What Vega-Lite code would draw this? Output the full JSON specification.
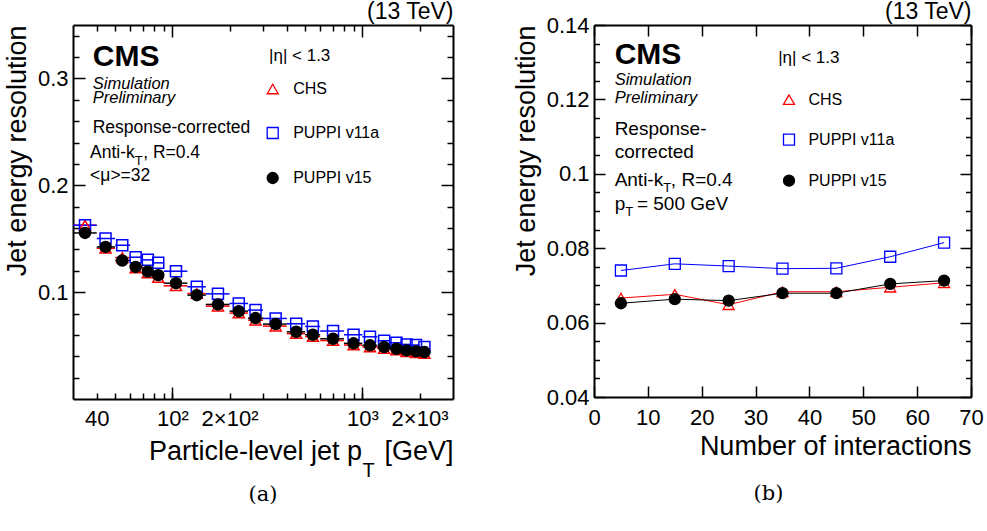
{
 "$schema": "https://vega.github.io/schema/vega-lite/v6.json",
 "padding": {"left": 3, "top": 0, "right": 0, "bottom": 0},
 "spacing": 58,
 "background": "white",
 "config": {
  "view": {"stroke": null},
  "axis": {"labelFont": "Liberation Sans", "titleFont": "Liberation Sans", "domainColor": "black", "tickColor": "black", "labelColor": "black", "titleColor": "black", "titleFontWeight": "normal", "grid": false, "domainWidth": 2, "tickWidth": 1.5, "labelFontSize": 22, "titleFontSize": 27, "labelFlush": false, "labelOverlap": false, "zindex": 1},
  "legend": {"labelFont": "Liberation Sans", "titleFont": "Liberation Sans", "labelColor": "black", "titleColor": "black", "titleFontWeight": "normal"}
 },
 "resolve": {"scale": {"shape": "independent", "stroke": "independent", "fill": "independent", "size": "independent"}, "legend": {"shape": "independent", "stroke": "independent", "fill": "independent", "size": "independent"}},
 "datasets": {
  "pt": [
   {"s":"CHS","pt":34.7,"lo":30,"hi":40,"res":0.1626},{"s":"CHS","pt":44.5,"lo":40,"hi":50,"res":0.141},{"s":"CHS","pt":54.5,"lo":50,"hi":60,"res":0.1323},{"s":"CHS","pt":64.1,"lo":60,"hi":70,"res":0.1225},{"s":"CHS","pt":74.3,"lo":70,"hi":80,"res":0.118},{"s":"CHS","pt":84.3,"lo":80,"hi":90,"res":0.1136},{"s":"CHS","pt":104.5,"lo":90,"hi":120,"res":0.1059},{"s":"CHS","pt":134.5,"lo":120,"hi":150,"res":0.0987},{"s":"CHS","pt":173.8,"lo":150,"hi":200,"res":0.0869},{"s":"CHS","pt":223.7,"lo":200,"hi":250,"res":0.0804},{"s":"CHS","pt":274,"lo":250,"hi":300,"res":0.0738},{"s":"CHS","pt":349.8,"lo":300,"hi":400,"res":0.0682},{"s":"CHS","pt":448.6,"lo":400,"hi":500,"res":0.0612},{"s":"CHS","pt":549,"lo":500,"hi":600,"res":0.0584},{"s":"CHS","pt":701,"lo":600,"hi":800,"res":0.0547},{"s":"CHS","pt":899,"lo":800,"hi":1000,"res":0.0505},{"s":"CHS","pt":1097,"lo":1000,"hi":1200,"res":0.0486},{"s":"CHS","pt":1302,"lo":1200,"hi":1400,"res":0.0472},{"s":"CHS","pt":1512,"lo":1400,"hi":1600,"res":0.0458},{"s":"CHS","pt":1709,"lo":1600,"hi":1800,"res":0.0442},{"s":"CHS","pt":1917,"lo":1800,"hi":2000,"res":0.0433},{"s":"CHS","pt":2121,"lo":2000,"hi":2200,"res":0.0425},
   {"s":"PUPPI v11a","pt":34.7,"lo":30,"hi":40,"res":0.1626},{"s":"PUPPI v11a","pt":44.5,"lo":40,"hi":50,"res":0.1502},{"s":"PUPPI v11a","pt":54.5,"lo":50,"hi":60,"res":0.1439},{"s":"PUPPI v11a","pt":64.1,"lo":60,"hi":70,"res":0.1327},{"s":"PUPPI v11a","pt":74.3,"lo":70,"hi":80,"res":0.1302},{"s":"PUPPI v11a","pt":84.3,"lo":80,"hi":90,"res":0.1274},{"s":"PUPPI v11a","pt":104.5,"lo":90,"hi":120,"res":0.1196},{"s":"PUPPI v11a","pt":134.5,"lo":120,"hi":150,"res":0.105},{"s":"PUPPI v11a","pt":173.8,"lo":150,"hi":200,"res":0.0984},{"s":"PUPPI v11a","pt":223.7,"lo":200,"hi":250,"res":0.0894},{"s":"PUPPI v11a","pt":274,"lo":250,"hi":300,"res":0.0832},{"s":"PUPPI v11a","pt":349.8,"lo":300,"hi":400,"res":0.0754},{"s":"PUPPI v11a","pt":448.6,"lo":400,"hi":500,"res":0.0704},{"s":"PUPPI v11a","pt":549,"lo":500,"hi":600,"res":0.0679},{"s":"PUPPI v11a","pt":701,"lo":600,"hi":800,"res":0.0636},{"s":"PUPPI v11a","pt":899,"lo":800,"hi":1000,"res":0.0601},{"s":"PUPPI v11a","pt":1097,"lo":1000,"hi":1200,"res":0.0582},{"s":"PUPPI v11a","pt":1302,"lo":1200,"hi":1400,"res":0.0545},{"s":"PUPPI v11a","pt":1512,"lo":1400,"hi":1600,"res":0.0526},{"s":"PUPPI v11a","pt":1709,"lo":1600,"hi":1800,"res":0.0511},{"s":"PUPPI v11a","pt":1917,"lo":1800,"hi":2000,"res":0.0505},{"s":"PUPPI v11a","pt":2121,"lo":2000,"hi":2200,"res":0.0486},
   {"s":"PUPPI v15","pt":34.7,"lo":30,"hi":40,"res":0.1554},{"s":"PUPPI v15","pt":44.5,"lo":40,"hi":50,"res":0.1423},{"s":"PUPPI v15","pt":54.5,"lo":50,"hi":60,"res":0.1296},{"s":"PUPPI v15","pt":64.1,"lo":60,"hi":70,"res":0.1236},{"s":"PUPPI v15","pt":74.3,"lo":70,"hi":80,"res":0.1193},{"s":"PUPPI v15","pt":84.3,"lo":80,"hi":90,"res":0.1159},{"s":"PUPPI v15","pt":104.5,"lo":90,"hi":120,"res":0.1084},{"s":"PUPPI v15","pt":134.5,"lo":120,"hi":150,"res":0.0972},{"s":"PUPPI v15","pt":173.8,"lo":150,"hi":200,"res":0.0885},{"s":"PUPPI v15","pt":223.7,"lo":200,"hi":250,"res":0.0822},{"s":"PUPPI v15","pt":274,"lo":250,"hi":300,"res":0.0757},{"s":"PUPPI v15","pt":349.8,"lo":300,"hi":400,"res":0.0701},{"s":"PUPPI v15","pt":448.6,"lo":400,"hi":500,"res":0.0629},{"s":"PUPPI v15","pt":549,"lo":500,"hi":600,"res":0.0601},{"s":"PUPPI v15","pt":701,"lo":600,"hi":800,"res":0.0564},{"s":"PUPPI v15","pt":899,"lo":800,"hi":1000,"res":0.0521},{"s":"PUPPI v15","pt":1097,"lo":1000,"hi":1200,"res":0.0502},{"s":"PUPPI v15","pt":1302,"lo":1200,"hi":1400,"res":0.0486},{"s":"PUPPI v15","pt":1512,"lo":1400,"hi":1600,"res":0.047},{"s":"PUPPI v15","pt":1709,"lo":1600,"hi":1800,"res":0.0455},{"s":"PUPPI v15","pt":1917,"lo":1800,"hi":2000,"res":0.0446},{"s":"PUPPI v15","pt":2121,"lo":2000,"hi":2200,"res":0.0439}
  ],
  "mu": [
   {"s":"CHS","mu":5,"res":0.0666},{"s":"CHS","mu":15,"res":0.0676},{"s":"CHS","mu":25,"res":0.0648},{"s":"CHS","mu":35,"res":0.0683},{"s":"CHS","mu":45,"res":0.0683},{"s":"CHS","mu":55,"res":0.0695},{"s":"CHS","mu":65,"res":0.0707},
   {"s":"PUPPI v11a","mu":5,"res":0.074},{"s":"PUPPI v11a","mu":15,"res":0.0758},{"s":"PUPPI v11a","mu":25,"res":0.0752},{"s":"PUPPI v11a","mu":35,"res":0.0745},{"s":"PUPPI v11a","mu":45,"res":0.0746},{"s":"PUPPI v11a","mu":55,"res":0.0777},{"s":"PUPPI v11a","mu":65,"res":0.0815},
   {"s":"PUPPI v15","mu":5,"res":0.0652},{"s":"PUPPI v15","mu":15,"res":0.0663},{"s":"PUPPI v15","mu":25,"res":0.0659},{"s":"PUPPI v15","mu":35,"res":0.0679},{"s":"PUPPI v15","mu":45,"res":0.0679},{"s":"PUPPI v15","mu":55,"res":0.0704},{"s":"PUPPI v15","mu":65,"res":0.0713}
  ]
 },
 "hconcat": [
  {
   "width": 380, "height": 374,
   "title": {"text": "(a)", "orient": "bottom", "font": "DejaVu Serif", "fontSize": 21, "fontWeight": "normal", "anchor": "middle", "offset": 4, "color": "black"},
   "resolve": {"axis": {"x": "independent", "y": "independent"}},
   "layer": [
    {
     "data": {"name": "pt"},
     "mark": {"type": "rule", "strokeWidth": 1.5},
     "encoding": {
      "x": {"field": "lo", "type": "quantitative", "scale": {"type": "log", "domain": [30, 3000], "nice": false},
            "axis": {"orient": "bottom", "values": [40,50,60,70,80,90,100,200,300,400,500,600,700,800,900,1000,2000], "labelExpr": "datum.value == 40 ? '40' : datum.value == 100 ? '10²' : datum.value == 200 ? '2×10²' : datum.value == 1000 ? '10³' : datum.value == 2000 ? '2×10³' : ''", "tickSize": -6, "labelPadding": 15, "title": "Particle-level jet p\u00a0\u00a0\u00a0[GeV]", "titleAnchor": "end", "titlePadding": 9}},
      "x2": {"field": "hi"},
      "y": {"field": "res", "type": "quantitative", "scale": {"domain": [0, 0.35], "nice": false, "zero": false},
            "axis": {"orient": "left", "values": [0.1, 0.2, 0.3], "tickSize": -12, "labelPadding": 17, "title": "Jet energy resolution", "titleAnchor": "end", "titlePadding": 6}},
      "stroke": {"field": "s", "type": "nominal", "scale": {"domain": ["CHS", "PUPPI v11a", "PUPPI v15"], "range": ["#ff0000", "#0000ff", "#000000"]}}
     }
    },
    {
     "data": {"name": "pt"},
     "mark": {"type": "point", "strokeWidth": 1.5, "opacity": 1},
     "encoding": {
      "x": {"field": "pt", "type": "quantitative", "axis": {"orient": "bottom", "values": [100, 1000], "tickSize": -12, "labels": false, "domain": false, "title": "T", "titleFontSize": 20, "titleAlign": "left", "titleBaseline": "alphabetic", "titleX": 289, "titleY": 77}},
      "y": {"field": "res", "type": "quantitative", "axis": {"orient": "left", "values": [0.02,0.04,0.06,0.08,0.12,0.14,0.16,0.18,0.22,0.24,0.26,0.28,0.32,0.34], "tickSize": -6, "labels": false, "domain": false, "title": null}},
      "stroke": {"field": "s", "type": "nominal"},
      "fill": {"field": "s", "type": "nominal", "scale": {"domain": ["CHS", "PUPPI v11a", "PUPPI v15"], "range": ["transparent", "transparent", "#000000"]}},
      "size": {"field": "s", "type": "nominal", "scale": {"domain": ["CHS", "PUPPI v11a", "PUPPI v15"], "range": [121, 121, 100]}},
      "shape": {"field": "s", "type": "nominal", "scale": {"domain": ["CHS", "PUPPI v11a", "PUPPI v15"], "range": ["triangle-up", "square", "circle"]},
        "legend": {"orient": "none", "legendX": 191.7, "legendY": 56, "title": null, "labelFontSize": 16, "labelOffset": 12.5, "symbolStrokeWidth": 1.3, "rowPadding": 27, "padding": 0}}
     }
    },
    {
     "data": {"values": [{"x": 38.1, "y": 0.3112, "text": "CMS"}]},
     "mark": {"type": "text", "align": "left", "baseline": "alphabetic", "font": "Liberation Sans", "fontSize": 30, "fontWeight": "bold", "color": "black"},
     "encoding": {
      "x": {"field": "x", "type": "quantitative", "axis": {"orient": "top", "values": [40,50,60,70,80,90,200,300,400,500,600,700,800,900,2000], "tickSize": -6, "labels": false, "domain": true, "title": "(13 TeV)", "titleAnchor": "end", "titleFontSize": 23, "titlePadding": 1}},
      "y": {"field": "y", "type": "quantitative", "axis": {"orient": "right", "values": [0.1, 0.2, 0.3], "tickSize": -12, "labels": false, "domain": true, "title": null}},
      "text": {"field": "text"}
     }
    },
    {
     "data": {"values": [{"x": 38.1, "y": 0.2903, "text": "Simulation"}, {"x": 38.1, "y": 0.2769, "text": "Preliminary"}]},
     "mark": {"type": "text", "align": "left", "baseline": "alphabetic", "font": "Liberation Sans", "fontSize": 16.5, "fontStyle": "italic", "color": "black"},
     "encoding": {
      "x": {"field": "x", "type": "quantitative", "axis": {"orient": "top", "values": [100, 1000], "tickSize": -12, "labels": false, "domain": false, "title": null}},
      "y": {"field": "y", "type": "quantitative", "axis": {"orient": "right", "values": [0.02,0.04,0.06,0.08,0.12,0.14,0.16,0.18,0.22,0.24,0.26,0.28,0.32,0.34], "tickSize": -6, "labels": false, "domain": false, "title": null}},
      "text": {"field": "text"}
     }
    },
    {
     "data": {"values": [{"x": 38.1, "y": 0.2489, "text": "Response-corrected"}, {"x": 36.9, "y": 0.2255, "text": "Anti-k"}, {"x": 70.2, "y": 0.2255, "text": ", R=0.4"}, {"x": 36.9, "y": 0.2037, "text": "<μ>=32"}]},
     "mark": {"type": "text", "align": "left", "baseline": "alphabetic", "font": "Liberation Sans", "fontSize": 17.5, "color": "black"},
     "encoding": {
      "x": {"field": "x", "type": "quantitative", "axis": null},
      "y": {"field": "y", "type": "quantitative", "axis": null},
      "text": {"field": "text"}
     }
    },
    {
     "data": {"values": [{"x": 322.7, "y": 0.3165, "text": "|η| < 1.3"}]},
     "mark": {"type": "text", "align": "left", "baseline": "alphabetic", "font": "Liberation Sans", "fontSize": 17, "color": "black"},
     "encoding": {
      "x": {"field": "x", "type": "quantitative", "axis": null},
      "y": {"field": "y", "type": "quantitative", "axis": null},
      "text": {"field": "text"}
     }
    },
    {
     "data": {"values": [{"x": 63.4, "y": 0.2193, "text": "T"}]},
     "mark": {"type": "text", "align": "left", "baseline": "alphabetic", "font": "Liberation Sans", "fontSize": 13, "color": "black"},
     "encoding": {
      "x": {"field": "x", "type": "quantitative", "axis": null},
      "y": {"field": "y", "type": "quantitative", "axis": null},
      "text": {"field": "text"}
     }
    }
   ]
  },
  {
   "width": 377, "height": 372,
   "title": {"text": "(b)", "orient": "bottom", "font": "DejaVu Serif", "fontSize": 21, "fontWeight": "normal", "anchor": "middle", "offset": 24, "dx": -14, "color": "black"},
   "resolve": {"axis": {"x": "independent", "y": "independent"}},
   "layer": [
    {
     "data": {"name": "mu"},
     "mark": {"type": "line", "strokeWidth": 1},
     "encoding": {
      "x": {"field": "mu", "type": "quantitative", "scale": {"domain": [0, 70], "nice": false, "zero": false},
            "axis": {"orient": "bottom", "values": [0,10,20,30,40,50,60,70], "tickSize": -11, "labelPadding": 21, "title": "Number of interactions", "titleAnchor": "end", "titlePadding": 5}},
      "y": {"field": "res", "type": "quantitative", "scale": {"domain": [0.04, 0.14], "nice": false, "zero": false},
            "axis": {"orient": "left", "values": [0.04,0.06,0.08,0.1,0.12,0.14], "format": "~g", "tickSize": -11, "labelPadding": 16, "title": "Jet energy resolution", "titleAnchor": "end", "titlePadding": 6}},
      "stroke": {"field": "s", "type": "nominal", "scale": {"domain": ["CHS", "PUPPI v11a", "PUPPI v15"], "range": ["#ff0000", "#0000ff", "#000000"]}}
     }
    },
    {
     "data": {"name": "mu"},
     "mark": {"type": "point", "strokeWidth": 1.3, "opacity": 1},
     "encoding": {
      "x": {"field": "mu", "type": "quantitative", "axis": {"orient": "top", "values": [0,10,20,30,40,50,60,70], "tickSize": -11, "labels": false, "domain": true, "title": "(13 TeV)", "titleAnchor": "end", "titleFontSize": 23, "titlePadding": 1}},
      "y": {"field": "res", "type": "quantitative", "axis": {"orient": "right", "values": [0.04,0.06,0.08,0.1,0.12,0.14], "tickSize": -11, "labels": false, "domain": true, "title": null}},
      "stroke": {"field": "s", "type": "nominal"},
      "fill": {"field": "s", "type": "nominal", "scale": {"domain": ["CHS", "PUPPI v11a", "PUPPI v15"], "range": ["transparent", "transparent", "#000000"]}},
      "size": {"field": "s", "type": "nominal", "scale": {"domain": ["CHS", "PUPPI v11a", "PUPPI v15"], "range": [121, 121, 100]}},
      "shape": {"field": "s", "type": "nominal", "scale": {"domain": ["CHS", "PUPPI v11a", "PUPPI v15"], "range": ["triangle-up", "square", "circle"]},
        "legend": {"orient": "none", "legendX": 187, "legendY": 66.7, "title": null, "labelFontSize": 16, "labelOffset": 11.4, "symbolStrokeWidth": 1.3, "rowPadding": 23, "padding": 0}}
     }
    },
    {
     "data": {"values": [{"x": 3.83, "y": 0.1294, "text": "CMS"}]},
     "mark": {"type": "text", "align": "left", "baseline": "alphabetic", "font": "Liberation Sans", "fontSize": 30, "fontWeight": "bold", "color": "black"},
     "encoding": {
      "x": {"field": "x", "type": "quantitative", "axis": null},
      "y": {"field": "y", "type": "quantitative", "axis": {"orient": "left", "values": [0.045,0.05,0.055,0.065,0.07,0.075,0.085,0.09,0.095,0.105,0.11,0.115,0.125,0.13,0.135], "tickSize": -5.5, "labels": false, "domain": false, "title": null}},
      "text": {"field": "text"}
     }
    },
    {
     "data": {"values": [{"x": 3.83, "y": 0.1238, "text": "Simulation"}, {"x": 3.83, "y": 0.119, "text": "Preliminary"}]},
     "mark": {"type": "text", "align": "left", "baseline": "alphabetic", "font": "Liberation Sans", "fontSize": 16.5, "fontStyle": "italic", "color": "black"},
     "encoding": {
      "x": {"field": "x", "type": "quantitative", "axis": null},
      "y": {"field": "y", "type": "quantitative", "axis": {"orient": "right", "values": [0.045,0.05,0.055,0.065,0.07,0.075,0.085,0.09,0.095,0.105,0.11,0.115,0.125,0.13,0.135], "tickSize": -5.5, "labels": false, "domain": false, "title": null}},
      "text": {"field": "text"}
     }
    },
    {
     "data": {"values": [{"x": 3.83, "y": 0.1105, "text": "Response-"}, {"x": 3.83, "y": 0.1042, "text": "corrected"}, {"x": 3.83, "y": 0.0966, "text": "Anti-k"}, {"x": 14.27, "y": 0.0966, "text": ", R=0.4"}, {"x": 3.83, "y": 0.0903, "text": "p"}, {"x": 7.97, "y": 0.0903, "text": "= 500 GeV"}]},
     "mark": {"type": "text", "align": "left", "baseline": "alphabetic", "font": "Liberation Sans", "fontSize": 19, "color": "black"},
     "encoding": {
      "x": {"field": "x", "type": "quantitative", "axis": null},
      "y": {"field": "y", "type": "quantitative", "axis": null},
      "text": {"field": "text"}
     }
    },
    {
     "data": {"values": [{"x": 34.2, "y": 0.1298, "text": "|η| < 1.3"}]},
     "mark": {"type": "text", "align": "left", "baseline": "alphabetic", "font": "Liberation Sans", "fontSize": 17, "color": "black"},
     "encoding": {
      "x": {"field": "x", "type": "quantitative", "axis": null},
      "y": {"field": "y", "type": "quantitative", "axis": null},
      "text": {"field": "text"}
     }
    },
    {
     "data": {"values": [{"x": 12.88, "y": 0.0952, "text": "T"}, {"x": 5.78, "y": 0.0887, "text": "T"}]},
     "mark": {"type": "text", "align": "left", "baseline": "alphabetic", "font": "Liberation Sans", "fontSize": 13, "color": "black"},
     "encoding": {
      "x": {"field": "x", "type": "quantitative", "axis": null},
      "y": {"field": "y", "type": "quantitative", "axis": null},
      "text": {"field": "text"}
     }
    }
   ]
  }
 ]
}
